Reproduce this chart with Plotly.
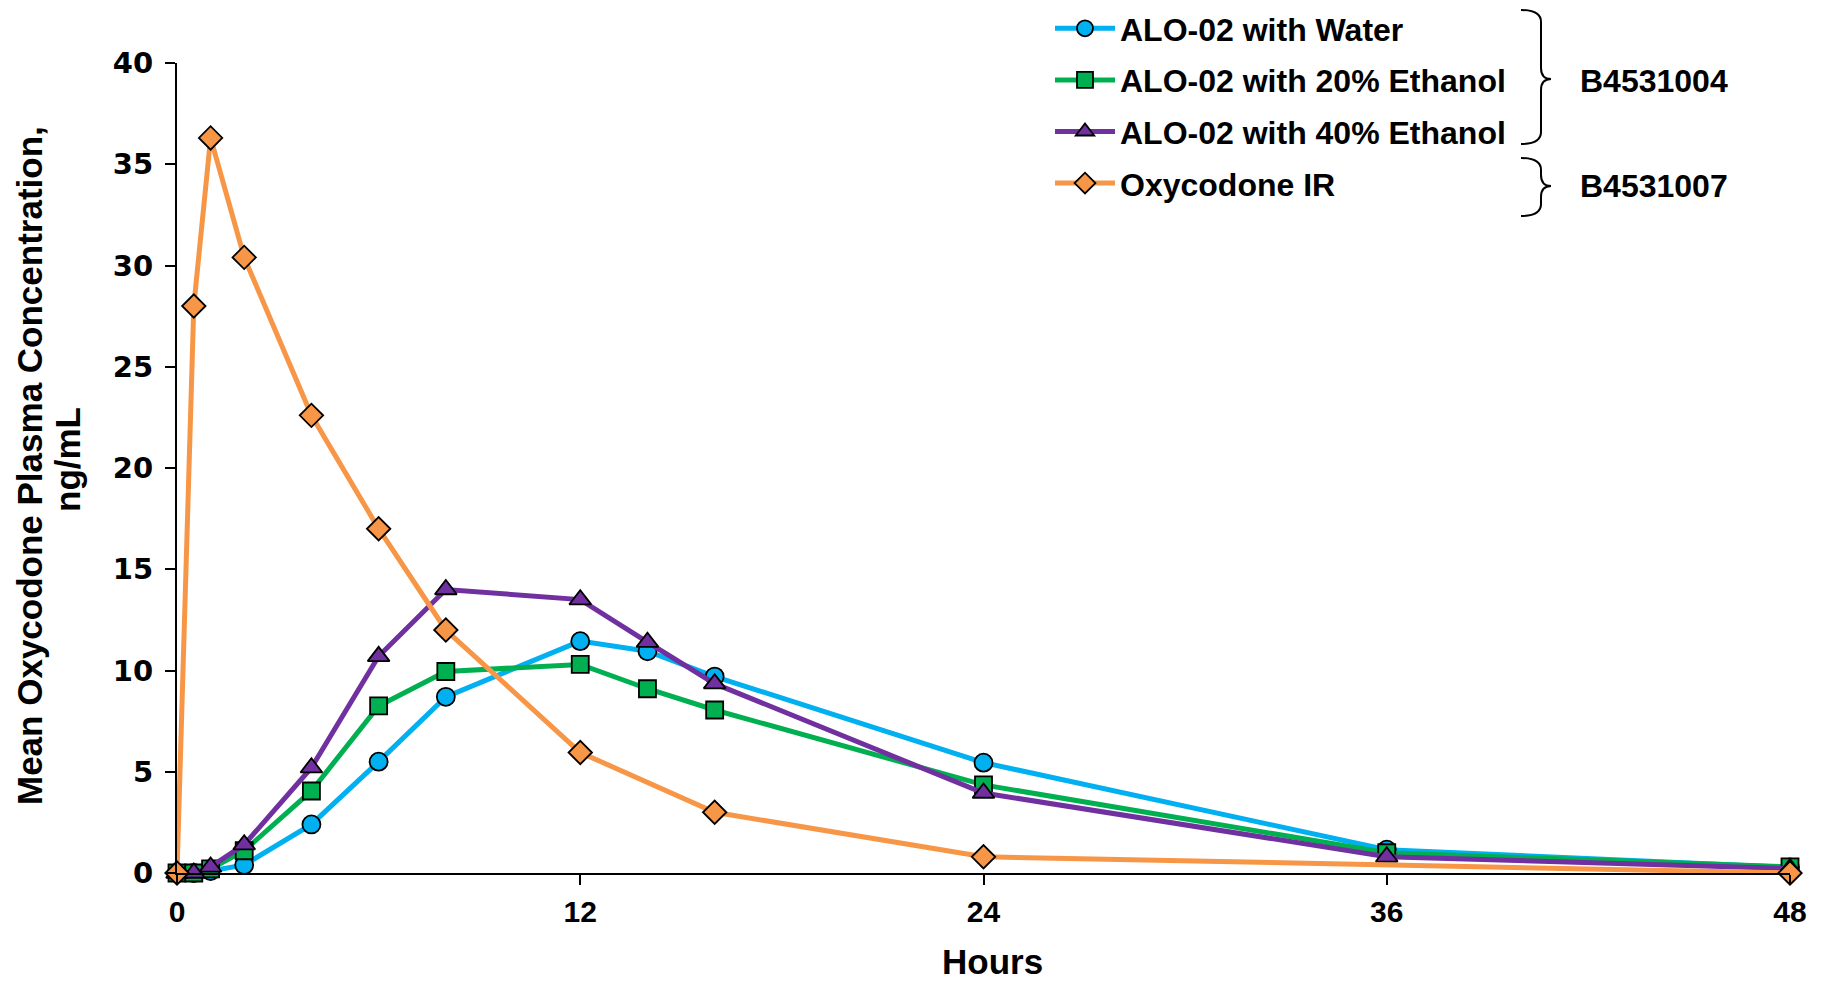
import plotly.graph_objects as go

hours_alo = [0, 0.5, 1, 2, 4, 6, 8, 12, 14, 16, 24, 36, 48]
water = [0, 0, 0.1, 0.4, 2.4, 5.5, 8.7, 11.45, 10.95, 9.7, 5.45, 1.15, 0.28]
eth20 = [0, 0, 0.2, 1.1, 4.05, 8.25, 9.95, 10.3, 9.1, 8.05, 4.35, 1.0, 0.3]
eth40 = [0, 0, 0.3, 1.4, 5.2, 10.7, 14.0, 13.5, 11.4, 9.35, 3.95, 0.8, 0.22]

hours_ir = [0, 0.5, 1, 2, 4, 6, 8, 12, 16, 24, 48]
oxy_ir = [0, 28.0, 36.3, 30.4, 22.6, 17.0, 12.0, 5.95, 3.0, 0.8, 0.0]

names = ["ALO-02 with Water", "ALO-02 with 20% Ethanol", "ALO-02 with 40% Ethanol", "Oxycodone IR"]
groups = ["B4531004", "B4531007"]
x_ticks = [0, 12, 24, 36, 48]
y_ticks = [0, 5, 10, 15, 20, 25, 30, 35, 40]

W, H = 1825, 981
L, R, T, B = 177, 1790, 63, 873  # plot area pixel box


def px(x):
    return (x - L) / (R - L)


def py(y):
    return (B - y) / (B - T)


FONT = "Liberation Sans, Arial, sans-serif"

fig = go.Figure()
styles = [
    (hours_alo, water, "#00B0F0", "circle", 18),
    (hours_alo, eth20, "#00B050", "square", 17),
    (hours_alo, eth40, "#7030A0", "triangle-up", 19),
    (hours_ir, oxy_ir, "#F79646", "diamond", 18),
]
for i, (xs, ys, col, sym, sz) in enumerate(styles):
    fig.add_trace(go.Scatter(
        x=xs, y=ys, name=names[i], mode="lines+markers",
        line=dict(color=col, width=5),
        marker=dict(symbol=sym, size=sz, color=col, line=dict(color="black", width=1.8)),
        cliponaxis=False, legendgroup=str(i),
    ))

fig.update_layout(
    width=W, height=H,
    margin=dict(l=L, r=W - R, t=T, b=H - B, autoexpand=False),
    paper_bgcolor="white", plot_bgcolor="white",
    font=dict(family=FONT, color="black"),
    showlegend=True,
    legend=dict(x=px(1050), y=py(1), xanchor="left", yanchor="top",
                font=dict(size=32, family=FONT, color="black", weight="bold"),
                tracegroupgap=7, itemwidth=60, bgcolor="rgba(0,0,0,0)"),
    xaxis=dict(range=[0, 48], tickvals=x_ticks, ticktext=[str(v) for v in x_ticks],
               showgrid=False, zeroline=False, showline=True, linecolor="black", linewidth=2,
               ticks="outside", ticklen=10, tickwidth=1.5, tickcolor="black",
               tickfont=dict(size=30, family=FONT, color="black", weight="bold"), ticklabelstandoff=1),
    yaxis=dict(range=[0, 40], tickvals=y_ticks, ticktext=[str(v) for v in y_ticks],
               showgrid=False, zeroline=False, showline=True, linecolor="black", linewidth=2,
               ticks="outside", ticklen=10, tickwidth=1.5, tickcolor="black", ticklabelstandoff=6,
               tickfont=dict(size=29, family="DejaVu Sans", color="black", weight="bold")),
)

ann = []
ann.append(dict(text="<b>Hours</b>", x=px(992), y=py(961), xref="paper", yref="paper",
                showarrow=False, font=dict(size=35, family=FONT), xanchor="center", yanchor="middle"))
ann.append(dict(text="<b>Mean Oxycodone Plasma Concentration,</b>", x=px(29), y=py(466),
                xref="paper", yref="paper", showarrow=False, textangle=-90,
                font=dict(size=35, family=FONT), xanchor="center", yanchor="middle"))
ann.append(dict(text="<b>ng/mL</b>", x=px(67), y=py(460),
                xref="paper", yref="paper", showarrow=False, textangle=-90,
                font=dict(size=35, family=FONT), xanchor="center", yanchor="middle"))
ann.append(dict(text="<b>" + groups[0] + "</b>", x=px(1578), y=py(81), xref="paper", yref="paper",
                showarrow=False, font=dict(size=32, family=FONT), xanchor="left", yanchor="middle"))
ann.append(dict(text="<b>" + groups[1] + "</b>", x=px(1578), y=py(186), xref="paper", yref="paper",
                showarrow=False, font=dict(size=32, family=FONT), xanchor="left", yanchor="middle"))
fig.update_layout(annotations=ann)


def brace(top, mid, bot, x0=1521, xv=1541, xt=1551):
    pts = [
        ("M", x0, top), ("Q", xv, top, xv, top + 12), ("L", xv, mid - 11),
        ("Q", xv, mid, xt, mid), ("Q", xv, mid, xv, mid + 11), ("L", xv, bot - 12),
        ("Q", xv, bot, x0, bot),
    ]
    s = ""
    for p in pts:
        cmd = p[0]
        coords = p[1:]
        s += cmd
        for j in range(0, len(coords), 2):
            s += " %.5f,%.5f " % (px(coords[j]), py(coords[j + 1]))
    return s


for (t, m, b) in [(10, 79, 144), (158, 186, 216)]:
    fig.add_shape(type="path", path=brace(t, m, b), xref="paper", yref="paper",
                  line=dict(color="black", width=2))

fig.write_html("out.html")
